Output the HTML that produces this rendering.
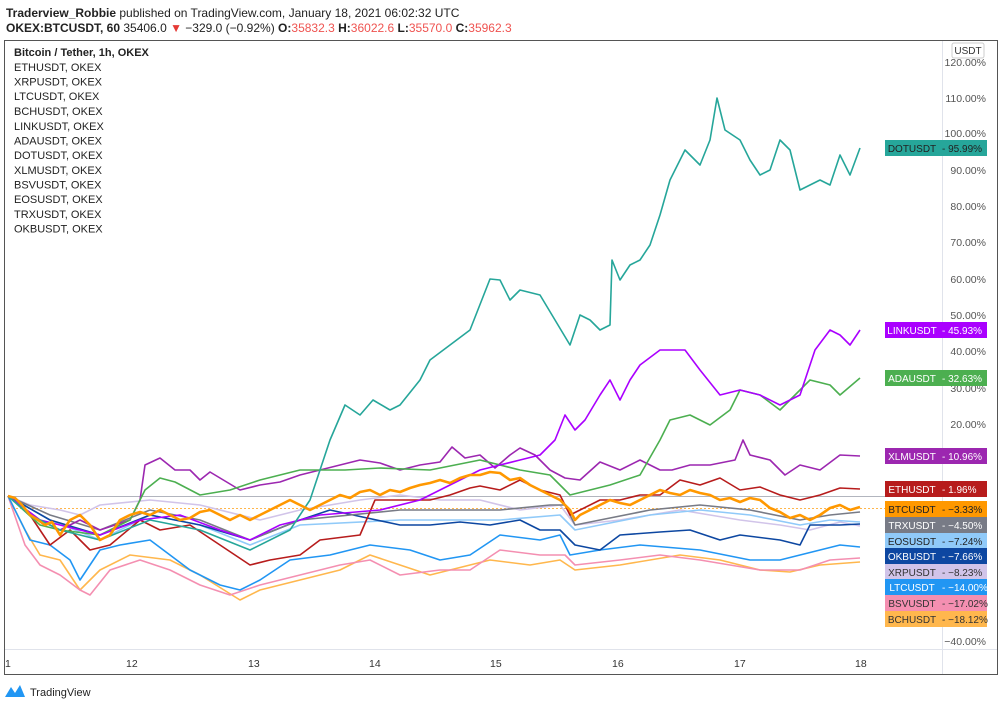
<!DOCTYPE html>
<html><head><meta charset="utf-8"><style>
body{margin:0;width:1000px;height:707px;background:#fff;overflow:hidden;font-family:"Liberation Sans",sans-serif}
</style></head><body>
<svg width="1000" height="707" viewBox="0 0 1000 707" xmlns="http://www.w3.org/2000/svg" font-family="Liberation Sans, sans-serif">
<text x="6" y="17" font-size="12" fill="#222"><tspan font-weight="bold">Traderview_Robbie</tspan> published on TradingView.com, January 18, 2021 06:02:32 UTC</text>
<text x="6" y="32" font-size="12" fill="#222"><tspan font-weight="bold">OKEX:BTCUSDT, 60</tspan> 35406.0 <tspan fill="#e53935">▼</tspan> −329.0 (−0.92%) <tspan font-weight="bold">O:</tspan><tspan fill="#ef5350">35832.3</tspan> <tspan font-weight="bold">H:</tspan><tspan fill="#ef5350">36022.6</tspan> <tspan font-weight="bold">L:</tspan><tspan fill="#ef5350">35570.0</tspan> <tspan font-weight="bold">C:</tspan><tspan fill="#ef5350">35962.3</tspan></text>
<rect x="4.5" y="40.5" width="993" height="634" fill="none" stroke="#555" stroke-width="1"/>
<line x1="5" y1="649.5" x2="997" y2="649.5" stroke="#e0e3eb"/>
<line x1="942.5" y1="41" x2="942.5" y2="674" stroke="#e0e3eb"/>
<g font-size="11" fill="#222">
<text x="14" y="56" font-weight="bold">Bitcoin / Tether, 1h, OKEX</text>
<text x="14" y="71">ETHUSDT, OKEX</text><text x="14" y="85.5">XRPUSDT, OKEX</text><text x="14" y="100">LTCUSDT, OKEX</text><text x="14" y="115">BCHUSDT, OKEX</text><text x="14" y="130">LINKUSDT, OKEX</text><text x="14" y="144.5">ADAUSDT, OKEX</text><text x="14" y="159">DOTUSDT, OKEX</text><text x="14" y="174">XLMUSDT, OKEX</text><text x="14" y="188.5">BSVUSDT, OKEX</text><text x="14" y="203">EOSUSDT, OKEX</text><text x="14" y="218">TRXUSDT, OKEX</text><text x="14" y="232.5">OKBUSDT, OKEX</text>
</g>
<g font-size="10.5" fill="#555" text-anchor="end">
<text x="986" y="66">120.00%</text><text x="986" y="102">110.00%</text><text x="986" y="137">100.00%</text><text x="986" y="174">90.00%</text><text x="986" y="210">80.00%</text><text x="986" y="246">70.00%</text><text x="986" y="283">60.00%</text><text x="986" y="319">50.00%</text><text x="986" y="355">40.00%</text><text x="986" y="392">30.00%</text><text x="986" y="428">20.00%</text><text x="986" y="645">−40.00%</text>
</g>
<rect x="952" y="43" width="32" height="15" rx="2" fill="#fff" stroke="#ccc"/>
<text x="968" y="54" font-size="10" fill="#333" text-anchor="middle">USDT</text>
<g font-size="10.5" fill="#333">
<text x="5" y="667">1</text><text x="126" y="667">12</text><text x="248" y="667">13</text><text x="369" y="667">14</text><text x="490" y="667">15</text><text x="612" y="667">16</text><text x="734" y="667">17</text><text x="855" y="667">18</text>
</g>
<line x1="8" y1="496.5" x2="942" y2="496.5" stroke="#b2b5be"/>
<line x1="8" y1="508.5" x2="942" y2="508.5" stroke="#ff9800" stroke-dasharray="2,2" opacity="0.7"/>
<g fill="none" stroke-width="1.6" stroke-linejoin="round">
<polyline stroke="#ffb74d" points="8,496 25,530 40,555 60,560 80,590 100,570 130,555 170,560 200,575 240,600 260,590 300,580 340,570 370,555 400,565 430,575 470,565 490,560 530,565 560,560 575,570 620,565 680,555 720,560 760,570 790,572 820,565 860,562"/>
<polyline stroke="#f48fb1" points="8,496 25,545 40,565 60,575 80,590 90,595 110,570 140,560 170,570 200,585 230,595 260,585 300,575 340,565 370,560 400,575 440,570 470,570 500,550 540,555 565,555 575,565 620,560 660,555 700,560 760,570 800,570 830,560 860,558"/>
<polyline stroke="#2196f3" points="8,496 30,540 50,545 70,560 80,580 100,550 120,545 150,540 190,570 220,585 240,590 260,580 290,560 330,555 370,545 410,550 440,560 470,555 500,535 540,540 560,535 570,555 600,550 640,545 700,550 750,560 780,560 820,550 840,545 860,547"/>
<polyline stroke="#d1c4e9" points="8,496 30,505 60,510 80,515 100,505 150,500 200,505 260,520 300,510 360,500 400,495 440,500 480,500 520,510 560,505 575,525 620,520 680,510 740,520 780,525 810,530 840,522 860,526"/>
<polyline stroke="#90caf9" points="8,496 50,520 100,540 150,515 200,525 250,545 300,525 400,520 500,520 560,515 575,530 600,525 650,515 700,510 750,515 800,525 830,520 860,522"/>
<polyline stroke="#0d47a1" points="8,496 50,520 100,535 150,515 200,525 250,540 300,520 330,510 400,525 430,525 460,522 490,525 520,520 540,530 560,530 575,545 600,550 620,535 660,532 690,530 720,540 740,535 780,540 800,545 810,525 840,525 860,524"/>
<polyline stroke="#787b86" points="8,496 50,515 100,530 150,510 200,520 250,540 300,520 400,510 450,510 500,510 550,505 565,505 575,525 600,520 650,510 700,505 750,510 800,520 830,515 860,512"/>
<polyline stroke="#b71c1c" points="8,496 30,515 40,530 50,545 70,530 90,550 110,545 140,520 160,530 190,525 220,545 250,565 270,560 300,555 320,540 360,535 375,500 400,500 430,500 450,495 470,488 480,486 500,490 520,480 540,490 560,495 570,515 580,510 600,500 620,500 640,495 660,495 680,480 700,485 720,478 740,490 760,487 780,495 800,500 820,495 840,488 860,489"/>
<polyline stroke="#9c27b0" points="8,496 40,520 60,530 80,520 100,530 130,520 140,500 145,465 160,458 175,470 190,470 200,480 210,472 240,490 260,485 280,482 300,475 320,470 340,465 360,460 380,463 400,470 420,465 440,462 452,447 465,458 480,455 495,468 510,455 520,448 535,455 550,470 565,478 580,480 600,462 620,470 640,460 660,470 672,470 690,465 710,465 735,460 743,440 750,455 770,460 785,475 800,465 820,470 840,455 860,456"/>
<polyline stroke="#4caf50" points="8,496 40,525 60,530 100,535 130,520 145,490 160,478 175,482 200,495 230,490 260,480 300,470 345,470 380,468 430,470 480,460 520,470 550,475 570,495 590,490 610,485 640,475 660,440 670,420 690,415 710,425 730,410 740,390 760,395 780,410 800,390 810,380 830,385 840,395 860,378"/>
<polyline stroke="#aa00ff" points="8,496 40,520 60,525 100,535 140,520 180,515 220,530 250,540 280,525 320,515 380,510 420,500 440,490 480,470 500,465 520,460 540,455 555,440 565,415 575,430 585,420 600,395 610,380 620,400 630,380 640,365 660,350 685,350 700,370 720,395 740,390 760,395 780,405 800,395 815,350 830,330 840,335 850,345 860,330"/>
<polyline stroke="#26a69a" points="8,496 30,515 60,530 100,540 150,520 200,530 250,550 290,530 310,500 320,470 330,440 345,405 360,415 373,400 390,410 400,405 420,380 430,360 450,345 470,330 490,279 500,280 510,300 520,290 540,295 555,320 570,345 580,315 590,320 600,330 610,325 612,260 620,280 630,265 640,260 650,245 660,215 670,180 685,150 700,165 710,140 717,98 725,130 740,140 750,160 760,175 770,170 780,140 790,150 800,190 810,185 820,180 830,185 840,155 850,175 860,148"/>
<polyline stroke="#ff9800" stroke-width="2.6" points="8,496 15,498 22,505 30,515 38,520 45,525 52,522 60,535 70,520 80,515 90,525 100,540 110,535 120,520 130,515 140,512 150,515 160,510 170,515 180,520 190,518 200,512 210,510 220,515 230,520 240,515 250,520 260,515 270,510 280,505 290,500 300,505 310,510 320,505 330,500 340,495 350,498 360,492 370,490 380,495 390,490 400,492 410,488 420,485 430,483 440,480 450,483 460,478 470,475 480,475 490,472 500,473 510,480 520,478 530,485 540,490 550,495 560,500 570,510 575,520 580,515 590,510 600,505 610,500 620,503 630,505 640,500 650,495 660,490 670,493 680,495 690,490 700,493 710,495 720,500 730,498 740,502 750,498 760,500 770,508 780,512 790,518 800,515 810,520 820,515 830,508 840,505 850,510 860,507"/>
</g>
<g font-size="10">
<g><rect x="885" y="140" width="102" height="16" fill="#26a69a"/><text x="912" y="152" fill="#222" text-anchor="middle">DOTUSDT</text><text x="942" y="152" fill="#222">- 95.99%</text></g>
<g><rect x="885" y="322" width="102" height="16" fill="#aa00ff"/><text x="912" y="334" fill="#fff" text-anchor="middle">LINKUSDT</text><text x="942" y="334" fill="#fff">- 45.93%</text></g>
<g><rect x="885" y="370" width="102" height="16" fill="#4caf50"/><text x="912" y="382" fill="#fff" text-anchor="middle">ADAUSDT</text><text x="942" y="382" fill="#fff">- 32.63%</text></g>
<g><rect x="885" y="448" width="102" height="16" fill="#9c27b0"/><text x="912" y="460" fill="#fff" text-anchor="middle">XLMUSDT</text><text x="942" y="460" fill="#fff">- 10.96%</text></g>
<g><rect x="885" y="481" width="102" height="16" fill="#b71c1c"/><text x="912" y="493" fill="#fff" text-anchor="middle">ETHUSDT</text><text x="942" y="493" fill="#fff">- 1.96%</text></g>
<g><rect x="885" y="501" width="102" height="16" fill="#ff9800"/><text x="912" y="513" fill="#222" text-anchor="middle">BTCUSDT</text><text x="942" y="513" fill="#222">- −3.33%</text></g>
<g><rect x="885" y="517" width="102" height="16" fill="#787b86"/><text x="912" y="529" fill="#fff" text-anchor="middle">TRXUSDT</text><text x="942" y="529" fill="#fff">- −4.50%</text></g>
<g><rect x="885" y="533" width="102" height="16" fill="#90caf9"/><text x="912" y="545" fill="#222" text-anchor="middle">EOSUSDT</text><text x="942" y="545" fill="#222">- −7.24%</text></g>
<g><rect x="885" y="548" width="102" height="16" fill="#0d47a1"/><text x="912" y="560" fill="#fff" text-anchor="middle">OKBUSDT</text><text x="942" y="560" fill="#fff">- −7.66%</text></g>
<g><rect x="885" y="564" width="102" height="16" fill="#d1c4e9"/><text x="912" y="576" fill="#333" text-anchor="middle">XRPUSDT</text><text x="942" y="576" fill="#333">- −8.23%</text></g>
<g><rect x="885" y="579" width="102" height="16" fill="#2196f3"/><text x="912" y="591" fill="#fff" text-anchor="middle">LTCUSDT</text><text x="942" y="591" fill="#fff">- −14.00%</text></g>
<g><rect x="885" y="595" width="102" height="16" fill="#f48fb1"/><text x="912" y="607" fill="#333" text-anchor="middle">BSVUSDT</text><text x="942" y="607" fill="#333">- −17.02%</text></g>
<g><rect x="885" y="611" width="102" height="16" fill="#ffb74d"/><text x="912" y="623" fill="#333" text-anchor="middle">BCHUSDT</text><text x="942" y="623" fill="#333">- −18.12%</text></g>
</g>
<path d="M5,697 L11,687 L15,693 L20,685 L25,697 Z" fill="#2196f3"/>
<text x="30" y="696" font-size="11" fill="#222">TradingView</text>
</svg>
</body></html>
